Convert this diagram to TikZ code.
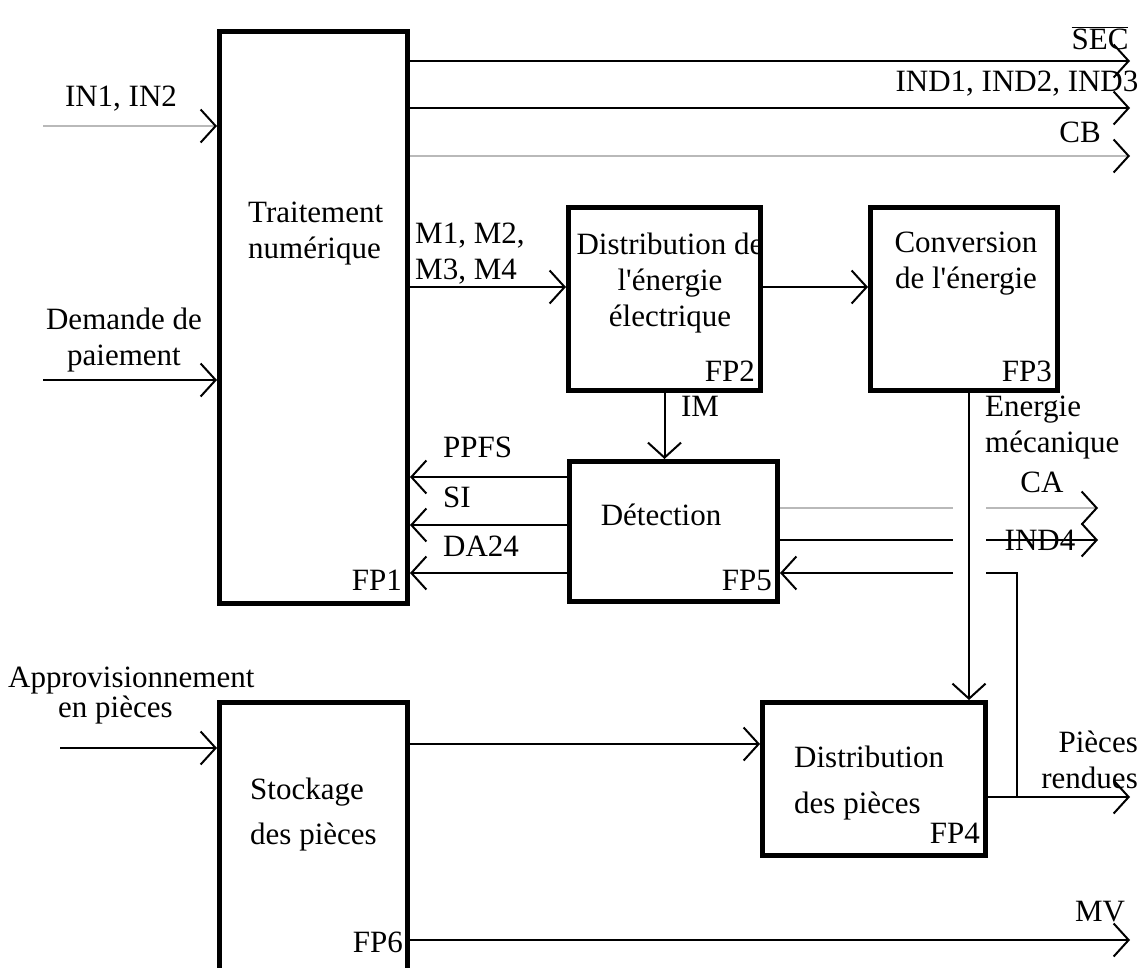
\documentclass[tikz,border=0pt]{standalone}
\usepackage{fontspec}
\setmainfont{Liberation Serif}
\usetikzlibrary{arrows.meta,positioning}

\begin{document}
\begin{tikzpicture}[x=1pt,y=-1pt,font=\fontsize{31}{36}\selectfont]
\tikzstyle{block} = [rectangle, draw, line width=5pt, inner sep=0pt, anchor=north west]
\tikzstyle{line} = [draw, line width=2pt, -{Straight Barb[length=15pt,width=33pt]}]
\tikzstyle{wire} = [draw, line width=2pt]
\tikzstyle{faint} = [draw, line width=1.2pt, gray!55]
\tikzstyle{grey} = [faint, -{Straight Barb[length=15pt,width=33pt,black,line width=2pt]}]
\tikzstyle{txt} = [inner sep=0pt, align=center]

\useasboundingbox (0,0) rectangle (1145,967);
\clip (0,0) rectangle (1145,967);

% blocs
\node [block, minimum width=188pt, minimum height=572pt] (FP1) at (217,29) {};
\node [block, minimum width=192pt, minimum height=183pt] (FP2) at (566,205) {};
\node [block, minimum width=187pt, minimum height=183pt] (FP3) at (868,205) {};
\node [block, minimum width=208pt, minimum height=140pt] (FP5) at (567,459) {};
\node [block, minimum width=223pt, minimum height=153pt] (FP4) at (760,700) {};
\node [block, minimum width=188pt, minimum height=320pt] (FP6) at (217,700) {};

% textes des blocs
\node [txt, align=left, anchor=west] (trait) at (248,234) {Traitement\\numérique};
\node [txt, anchor=base east] (nFP1) at (402,590) {FP1};
\node [txt] (distE) at (670,283) {Distribution de\\l\textquotesingle énergie\\électrique};
\node [txt, anchor=base east] (nFP2) at (755,381) {FP2};
\node [txt] (conv) at (966,264) {Conversion\\de l\textquotesingle énergie};
\node [txt, anchor=base east] (nFP3) at (1052,381) {FP3};
\node [txt] (detec) at (661,515) {Détection};
\node [txt, anchor=base east] (nFP5) at (772,590) {FP5};
\node [txt, align=left, anchor=west] (distP) at (794,783) {Distribution\\[10pt]des pièces};
\node [txt, anchor=base east] (nFP4) at (980,843) {FP4};
\node [txt, align=left, anchor=west] (stock) at (250,815) {Stockage\\[9pt]des pièces};
\node [txt, anchor=base east] (nFP6) at (403,952) {FP6};

% points libres
\coordinate (secE) at (1130,61);
\coordinate (indE) at (1130,108);
\coordinate (cbE) at (1130,156);
\coordinate (in1W) at (43,126);
\coordinate (demW) at (43,380);
\coordinate (mY) at (0,287);
\coordinate (ppY) at (0,477);
\coordinate (siY) at (0,525);
\coordinate (daY) at (0,573);
\coordinate (emX) at (969,0);
\coordinate (caL) at (953,508);
\coordinate (caR) at (986,508);
\coordinate (caE) at (1098,508);
\coordinate (i4L) at (953,540);
\coordinate (i4R) at (986,540);
\coordinate (i4E) at (1098,540);
\coordinate (retL) at (953,573);
\coordinate (retR) at (986,573);
\coordinate (retB) at (1017,797);
\coordinate (prE) at (1130,797);
\coordinate (stY) at (0,744);
\coordinate (appW) at (60,748);
\coordinate (mvE) at (1130,940);

% liaisons
\path [line] (FP1.east |- secE) -- (secE);
\path [line] (FP1.east |- indE) -- (indE);
\path [grey] (FP1.east |- cbE) -- (cbE);
\path [grey] (in1W) -- (in1W -| FP1.west);
\path [line] (demW) -- (demW -| FP1.west);
\path [line] (FP1.east |- mY) -- (FP2.west |- mY);
\path [line] (FP2.east |- mY) -- (FP3.west |- mY);
\path [line] (FP2.south) -- (FP2.south |- FP5.north);
\path [line] (FP5.west |- ppY) -- (FP1.east |- ppY);
\path [line] (FP5.west |- siY) -- (FP1.east |- siY);
\path [line] (FP5.west |- daY) -- (FP1.east |- daY);
\path [line] (FP3.south -| emX) -- (FP4.north -| emX);
\path [faint] (FP5.east |- caL) -- (caL);
\path [grey] (caR) -- (caE);
\path [wire] (FP5.east |- i4L) -- (i4L);
\path [line] (i4R) -- (i4E);
\path [wire] (retB) |- (retR);
\path [line] (retL) -- (FP5.east |- retL);
\path [line] (FP4.east |- prE) -- (prE);
\path [line] (FP6.east |- stY) -- (FP4.west |- stY);
\path [line] (appW) -- (appW -| FP6.west);
\path [line] (FP6.east |- mvE) -- (mvE);

% etiquettes
\node [txt] (lSEC) at (1100,38) {$\overline{\mbox{SEC}}$};
\node [txt] (lIND) at (1017,84) {IND1, IND2, IND3};
\node [txt] (lCB) at (1080,132) {CB};
\node [txt] (lIN) at (121,99) {IN1, IN2};
\node [txt] (lDem) at (124,340) {Demande de\\paiement};
\node [txt, align=left, anchor=west] (lM) at (415,254) {M1, M2,\\M3, M4};
\node [txt] (lIM) at (700,406) {IM};
\node [txt, align=left, anchor=west] (lEn) at (985,428) {Energie\\mécanique};
\node [txt, anchor=west] (lPP) at (443,447) {PPFS};
\node [txt, anchor=west] (lSI) at (443,497) {SI};
\node [txt, anchor=west] (lDA) at (443,546) {DA24};
\node [txt] (lCA) at (1042,482) {CA};
\node [txt] (lI4) at (1040,540) {IND4};
\node [txt, align=right, anchor=east] (lPR) at (1138,760) {Pièces\\rendues};
\node [txt, align=left, anchor=west] (lApp) at (8,696) {Approvisionnement\\[-6pt]\hspace*{50pt}en pièces};
\node [txt] (lMV) at (1100,912) {MV};
\end{tikzpicture}
\end{document}
